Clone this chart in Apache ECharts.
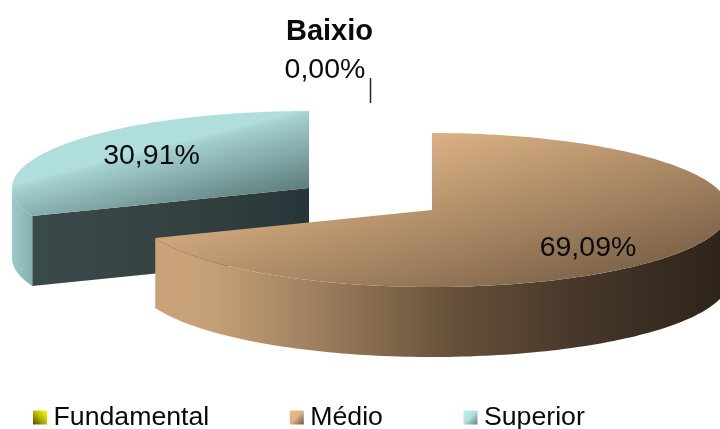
<!DOCTYPE html>
<html><head><meta charset="utf-8">
<style>html,body{margin:0;padding:0;background:#fff}#c{width:720px;height:429px}</style>
<script src="https://cdn.jsdelivr.net/npm/echarts@6/dist/echarts.min.js"></script>
</head><body><div id="c"></div>
<script>
const chartTitle = 'Baixio';
const categories = ['Fundamental', 'Médio', 'Superior'];
const shares = [0, 69.09, 30.91];
const shareLabels = ['0,00%', '69,09%', '30,91%'];

const G = (x0, y0, x1, y1, stops) => new echarts.graphic.LinearGradient(x0, y0, x1, y1,
  stops.map(s => ({offset: s[0], color: s[1]})), true);
const BOX = (dir, stops) => new echarts.graphic.LinearGradient(dir[0], dir[1], dir[2], dir[3],
  stops.map((c, i) => ({offset: i / (stops.length - 1), color: c})));

const RX = 297, RY = 77, DEPTH = 70;
const styles = [
  {cx: 370, cy: 200, face: '#c8c800', wall: '#555500', cut: '#333300',
   labelAt: [325, 70], box: BOX([0, 1, 1, 0], ['#4a4a00', '#b8b800', '#ffff00'])},
  {cx: 432, cy: 210, labelAt: [588, 248],
   face: G(432, 132, 484, 317, [[0, '#dcb286'], [0.2, '#c9a278'], [1, '#7b6248']]),
   wall: G(155, 0, 720, 0, [[0, '#c9a278'], [0.1, '#c6a076'], [0.27, '#a08261'], [0.53, '#665039'], [0.75, '#46372a'], [1, '#2e2419']]),
   cut: '#6b543e', box: BOX([0, 0, 1, 1], ['#e6bc8e', '#dcb286', '#6b543e'])},
  {cx: 309, cy: 188, labelAt: [151.5, 156],
   face: G(30, 180, 49, 253.5, [[0, '#b0dedd'], [0.08, '#a4cfcf'], [1, '#5f7f7e']]),
   wall: G(12, 0, 32, 0, [[0, '#9ccac9'], [1, '#86b0af']]),
   cut: G(32, 0, 309, 0, [[0, '#3a4a4a'], [0.6, '#334040'], [1, '#263638']]),
   box: BOX([0, 0, 1, 1], ['#c4eeee', '#b0dedd', '#5f7f7e'])}
];

function renderSlice(params, api) {
  const i = params.seriesIndex, s = styles[i];
  const before = shares.slice(0, i).reduce((a, b) => a + b, 0);
  const a0 = before / 100 * 2 * Math.PI, a1 = (before + api.value(0)) / 100 * 2 * Math.PI;
  const pt = (a, dy) => [s.cx + RX * Math.sin(a), s.cy - RY * Math.cos(a) + (dy || 0)];
  const children = [];
  const arc = [];
  for (let k = 0; k <= 180; k++) arc.push(a0 + (a1 - a0) * k / 180);
  if (a1 > a0) {
    // a wedge that starts on the lower left shows its cut face to the viewer
    if (a0 > Math.PI && a0 < 1.5 * Math.PI) {
      const e = pt(a0);
      children.push({type: 'polygon', shape: {points: [[s.cx, s.cy], e, [e[0], e[1] + DEPTH], [s.cx, s.cy + DEPTH]]},
        style: {fill: s.cut}});
    }
    // outer wall: only the front half of the rim is visible
    const front = arc.filter(a => Math.cos(a) <= 0);
    if (front.length) {
      const pts = front.map(a => pt(a)).concat(front.slice().reverse().map(a => pt(a, DEPTH)));
      children.push({type: 'polygon', shape: {points: pts}, style: {fill: s.wall}});
    }
    children.push({type: 'polygon', shape: {points: [[s.cx, s.cy]].concat(arc.map(a => pt(a)))},
      style: {fill: s.face}});
  } else {
    children.push({type: 'line', shape: {x1: 370.5, y1: 78, x2: 370.5, y2: 103},
      style: {stroke: '#222', lineWidth: 1.5}});
  }
  children.push({type: 'text', x: s.labelAt[0], y: s.labelAt[1], z2: 10,
    style: {text: shareLabels[i], fill: '#0a0a0a', fontFamily: 'Liberation Sans', fontSize: 28.5,
      align: 'center', verticalAlign: 'middle'}});
  return {type: 'group', children};
}

const chart = echarts.init(document.getElementById('c'), null, {renderer: 'canvas'});
chart.setOption({
  animation: false,
  backgroundColor: '#fff',
  title: {text: chartTitle, left: 324.5, textAlign: 'center', top: 12,
    textStyle: {fontFamily: 'Liberation Sans', fontSize: 29, fontWeight: 'bold', color: '#0a0a0a'}},
  legend: {
    left: 33, top: 404, itemWidth: 14, itemHeight: 14, itemGap: 80.5, selectedMode: false, padding: 0,
    textStyle: {fontFamily: 'Liberation Sans', fontSize: 26.7, color: '#0a0a0a', padding: [0, 0, 0, 1.5]},
    data: categories.map((n, i) => ({name: n, icon: 'rect', itemStyle: {color: styles[i].box}}))
  },
  series: categories.map((n, i) => ({
    type: 'custom', name: n, coordinateSystem: 'none', renderItem: renderSlice,
    silent: true, data: [[shares[i]]], z: i === 2 ? 1 : 2
  }))
});
</script></body></html>
